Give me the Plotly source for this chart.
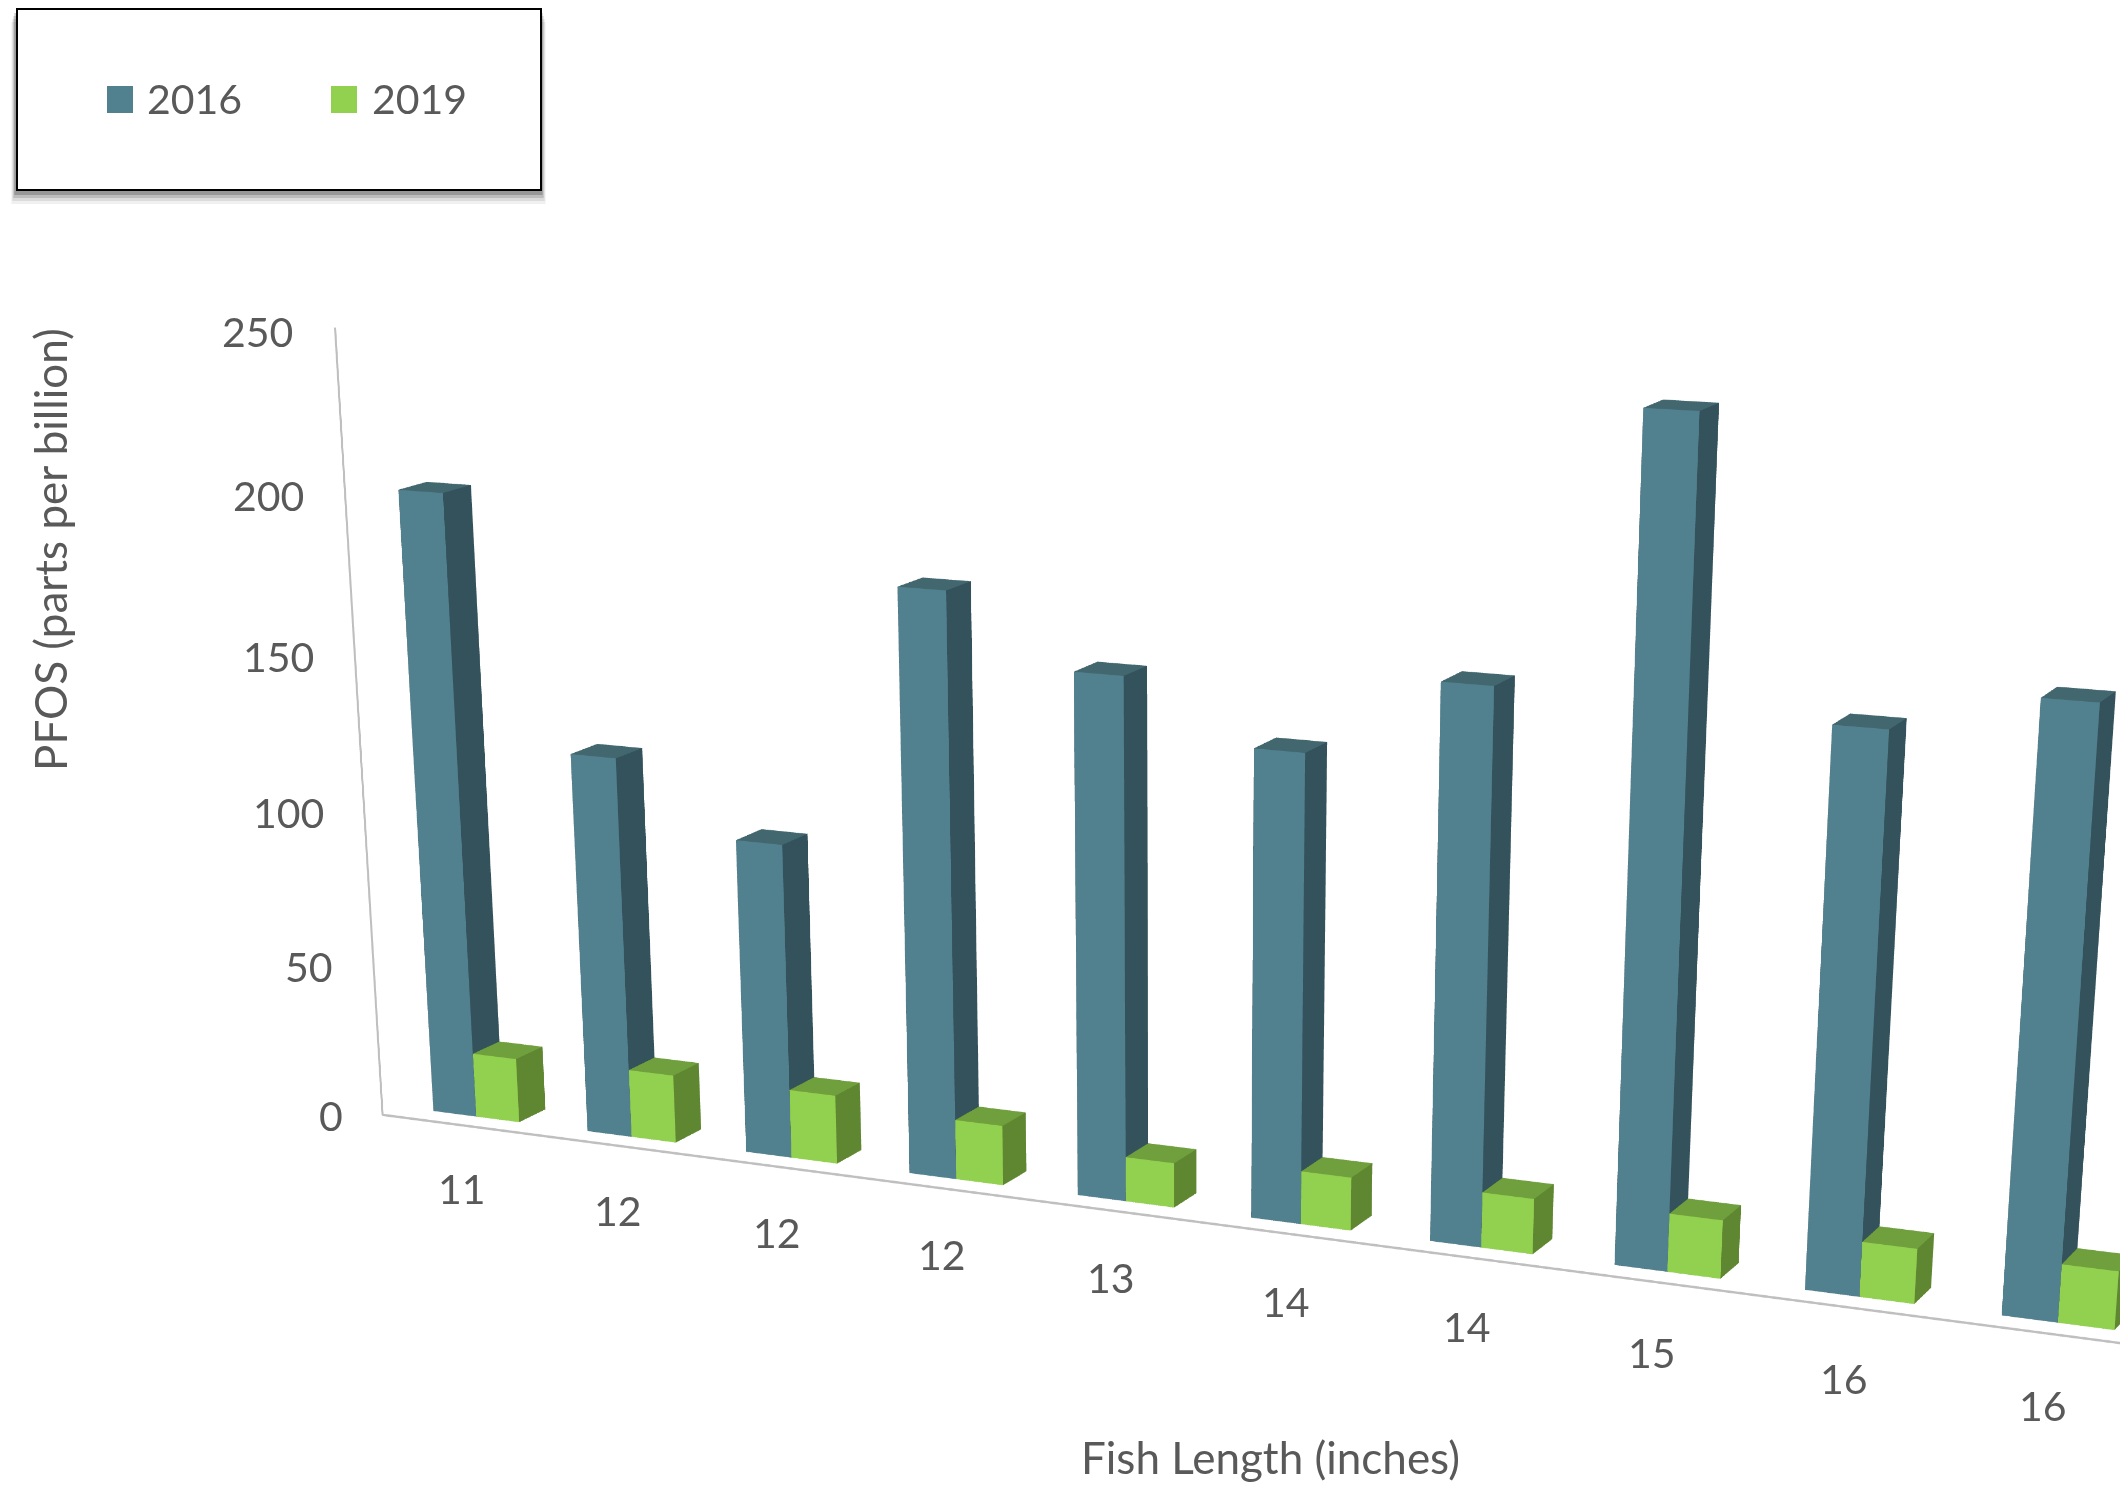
import math
import plotly.graph_objects as go

lengths = ["11", "12", "12", "12", "13", "14", "14", "15", "16", "16"]
pfos_2016 = [200, 122, 100, 182, 161, 143, 167, 247, 164, 176]
pfos_2019 = [21, 22, 22, 19, 14, 16.5, 17, 17.7, 16.5, 17.3]
value_ticks = [0, 50, 100, 150, 200, 250]
series_years = ["2016", "2019"]
front_colors = ["#51808E", "#92D14F"]
side_colors = ["#34525B", "#5F8630"]
top_colors = ["#42676F", "#709F3D"]

X_RANGE = [-1.0, 11.0]
Y_RANGE = [-1.0, 1.0]
Z_RANGE = [-40, 250]
ASPECT = dict(x=1.2, y=0.2, z=0.412)
BAR_W = 0.28
BAR_D = 0.28
BAR_Y0 = 0.18
PAGE_OFFSET = 8


def to_box(x, y, z):
    return (
        (x - sum(X_RANGE) / 2) / (X_RANGE[1] - X_RANGE[0]) * ASPECT["x"],
        (y - sum(Y_RANGE) / 2) / (Y_RANGE[1] - Y_RANGE[0]) * ASPECT["y"],
        (z - sum(Z_RANGE) / 2) / (Z_RANGE[1] - Z_RANGE[0]) * ASPECT["z"],
    )


def bars_mesh(values, offset, k):
    xs, ys, zs, i_, j_, k_, colors = [], [], [], [], [], [], []
    for n, v in enumerate(values):
        x0 = n + 0.5 + offset
        x1 = x0 + BAR_W
        y0, y1 = BAR_Y0, BAR_Y0 + BAR_D
        base = len(xs)
        for px_, py_, pz in [(x0, y0, 0), (x1, y0, 0), (x1, y1, 0), (x0, y1, 0),
                             (x0, y0, v), (x1, y0, v), (x1, y1, v), (x0, y1, v)]:
            xs.append(px_); ys.append(py_); zs.append(pz)
        faces = [
            ((0, 1, 5), front_colors[k]), ((0, 5, 4), front_colors[k]),
            ((1, 2, 6), side_colors[k]), ((1, 6, 5), side_colors[k]),
            ((4, 5, 6), top_colors[k]), ((4, 6, 7), top_colors[k]),
            ((0, 3, 7), side_colors[k]), ((0, 7, 4), side_colors[k]),
            ((3, 2, 6), side_colors[k]), ((3, 6, 7), side_colors[k]),
            ((0, 1, 2), side_colors[k]), ((0, 2, 3), side_colors[k]),
        ]
        for (a, b, c), col in faces:
            i_.append(base + a); j_.append(base + b); k_.append(base + c)
            colors.append(col)
    return go.Mesh3d(
        x=xs, y=ys, z=zs, i=i_, j=j_, k=k_, facecolor=colors, flatshading=True,
        name=series_years[k], hoverinfo="skip",
        lighting=dict(ambient=1, diffuse=0, specular=0, roughness=1, fresnel=0),
    )


fig = go.Figure()
fig.add_trace(go.Scatter3d(
    x=[0, 0, X_RANGE[1]], y=[0, 0, 0], z=[Z_RANGE[1], 0, 0], mode="lines",
    line=dict(color="#BFBFBF", width=4), hoverinfo="skip", showlegend=False))
fig.add_trace(bars_mesh(pfos_2016, -BAR_W, 0))
fig.add_trace(bars_mesh(pfos_2019, 0, 1))

FONT = "Lato"
TXT = "#595959"
FS = 41
annots3d = [dict(x=-0.25, y=0, z=v, text=str(v), showarrow=False, xanchor="right", yanchor="middle", yshift=-6,
                 font=dict(family=FONT, size=FS, color=TXT)) for v in value_ticks]
annots3d += [dict(x=i + 0.5, y=0, z=-21.5, text=t, showarrow=False, xanchor="center", yanchor="middle",
                  font=dict(family=FONT, size=FS, color=TXT)) for i, t in enumerate(lengths)]

W, H = 2128, 4800
focal = (H / 2) / math.tan(math.radians(22.5))
yaw = math.radians(26)
pitch = math.radians(26)
roll = math.radians(0.6)
PX_PER_CAT = 226
D = focal * (ASPECT["x"] / (X_RANGE[1] - X_RANGE[0])) / PX_PER_CAT
anchor_world = (5, 0, 0)
anchor_img = (1220 - PAGE_OFFSET, 1222 - PAGE_OFFSET)

F = (-math.sin(yaw) * math.cos(pitch), math.cos(yaw) * math.cos(pitch), -math.sin(pitch))
R0 = (math.cos(yaw), math.sin(yaw), 0.0)
U0 = (R0[1] * F[2] - R0[2] * F[1], R0[2] * F[0] - R0[0] * F[2], R0[0] * F[1] - R0[1] * F[0])
Uv = tuple(math.cos(roll) * u + math.sin(roll) * r for u, r in zip(U0, R0))
Rv = tuple(math.cos(roll) * r - math.sin(roll) * u for u, r in zip(U0, R0))
a = (anchor_img[0] - W / 2) * D / focal
b = (H / 2 - anchor_img[1]) * D / focal
A = to_box(*anchor_world)
E = tuple(A[i] - D * F[i] - a * Rv[i] - b * Uv[i] for i in range(3))
L = tuple(E[i] + D * F[i] for i in range(3))

axis_off = dict(visible=False, showspikes=False, showbackground=False)
fig.update_layout(
    width=W, height=H, margin=dict(l=0, r=0, t=0, b=0), paper_bgcolor="white", showlegend=False,
    scene=dict(
        domain=dict(x=[0, 1], y=[0, 1]),
        xaxis=dict(range=X_RANGE, **axis_off),
        yaxis=dict(range=Y_RANGE, **axis_off),
        zaxis=dict(range=Z_RANGE, **axis_off),
        aspectmode="manual", aspectratio=ASPECT,
        camera=dict(eye=dict(x=E[0], y=E[1], z=E[2]), center=dict(x=L[0], y=L[1], z=L[2]),
                    up=dict(x=Uv[0], y=Uv[1], z=Uv[2])),
        annotations=annots3d,
        dragmode=False,
    ),
)


def px(x):
    return (x - PAGE_OFFSET) / W


def py(y):
    return 1 - (y - PAGE_OFFSET) / H


shapes = []
for o, al in [(14, 0.06), (11, 0.09), (8, 0.14), (5, 0.2)]:
    shapes.append(dict(type="rect", xref="paper", yref="paper", x0=px(16 - o / 3), x1=px(541 + o / 3),
                       y0=py(8 + o), y1=py(190 + o), line=dict(width=0), fillcolor=f"rgba(0,0,0,{al})"))
shapes.append(dict(type="rect", xref="paper", yref="paper", x0=px(17), x1=px(541), y0=py(9), y1=py(190),
                   line=dict(color="black", width=2), fillcolor="white"))
annots = []
for k, (sx, tx) in enumerate([(107, 145), (331, 370)]):
    shapes.append(dict(type="rect", xref="paper", yref="paper", x0=px(sx), x1=px(sx + 26), y0=py(86), y1=py(113),
                       line=dict(width=0), fillcolor=front_colors[k]))
    annots.append(dict(xref="paper", yref="paper", x=px(tx), y=py(99), text=series_years[k], showarrow=False,
                       xanchor="left", yanchor="middle", font=dict(family=FONT, size=41, color=TXT)))
annots.append(dict(xref="paper", yref="paper", x=px(50), y=py(550), text="PFOS (parts per billion)", textangle=-90,
                   showarrow=False, xanchor="center", yanchor="middle", font=dict(family=FONT, size=44, color=TXT)))
annots.append(dict(xref="paper", yref="paper", x=px(1270), y=py(1457), text="Fish Length (inches)",
                   showarrow=False, xanchor="center", yanchor="middle", font=dict(family=FONT, size=44, color=TXT)))
fig.update_layout(shapes=shapes, annotations=annots)
fig.write_html("out.html", post_script="document.documentElement.style.overflow='hidden';document.body.style.overflow='hidden';")
